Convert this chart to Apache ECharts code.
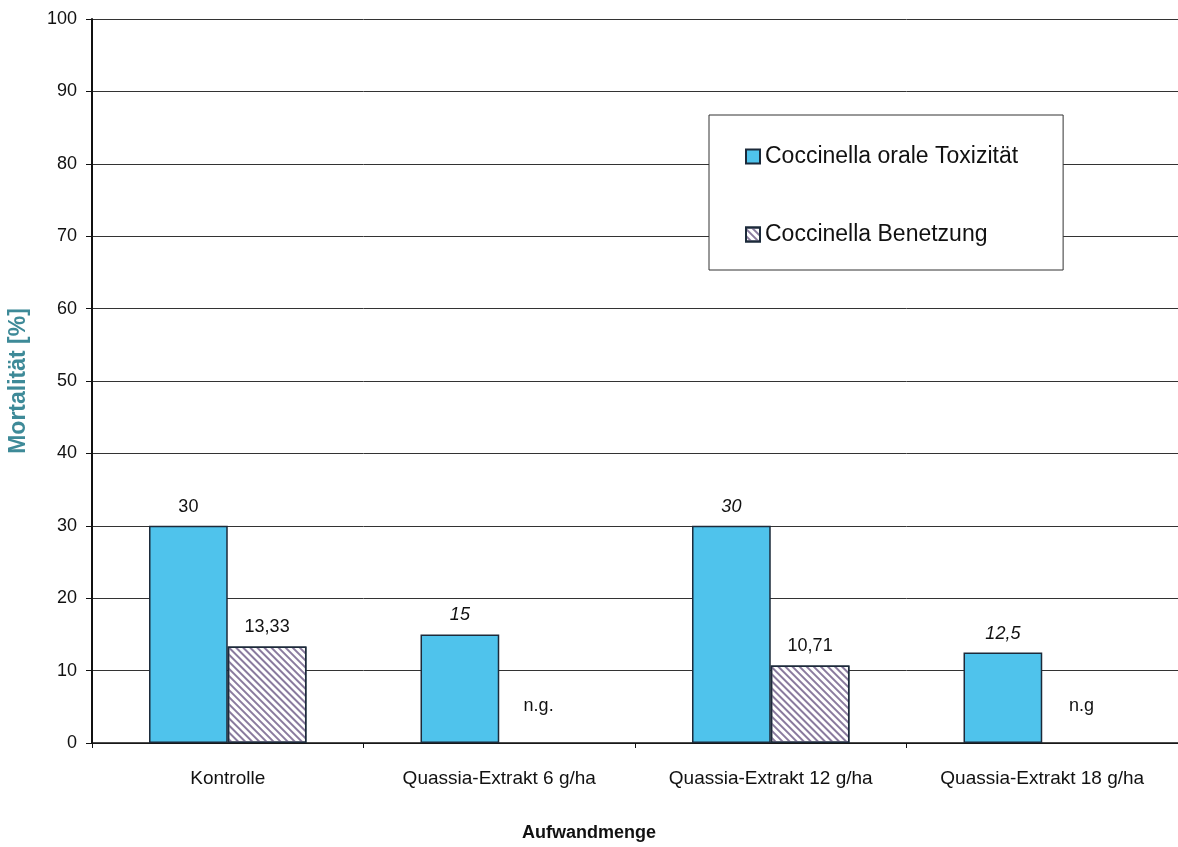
<!DOCTYPE html>
<html><head><meta charset="utf-8">
<script src="https://cdn.jsdelivr.net/npm/echarts@6/dist/echarts.min.js"></script>
<style>html,body{margin:0;padding:0;background:#fff}#c{width:1178px;height:847px}</style>
</head><body><div id="c"></div>
<script>
const categories = ['Kontrolle', 'Quassia-Extrakt 6 g/ha', 'Quassia-Extrakt 12 g/ha', 'Quassia-Extrakt 18 g/ha'];
const seriesNames = ['Coccinella orale Toxizität', 'Coccinella Benetzung'];
const oralValues = [30, 15, 30, 12.5];
const oralItalic = [false, true, true, true];
const benetzungValues = [13.33, null, 10.71, null];
const missingLabels = ['', 'n.g.', '', 'n.g'];
const yTicks = [0, 10, 20, 30, 40, 50, 60, 70, 80, 90, 100];

const fmt = v => String(v).replace('.', ',');
const chart = echarts.init(document.getElementById('c'));
const font = 'Liberation Sans, Arial, sans-serif';

chart.setOption({
  animation: false,
  textStyle: { fontFamily: font },
  grid: { left: 92, right: 0, top: 19, bottom: 104, containLabel: false, outerBoundsMode: 'none' },
  legend: {
    orient: 'vertical', left: 709, top: 115,
    padding: [30, 45, 24, 36], itemGap: 55,
    itemWidth: 14, itemHeight: 14, icon: 'rect',
    backgroundColor: '#fff', borderColor: '#333', borderWidth: 1,
    textStyle: { fontSize: 23, color: '#111', fontFamily: font },
    data: seriesNames
  },
  xAxis: {
    type: 'category', data: categories,
    name: 'Aufwandmenge', nameLocation: 'middle', nameGap: 81,
    nameTextStyle: { fontSize: 18, fontWeight: 'bold', color: '#111', padding: [0, 92, 0, 0] },
    axisLine: { lineStyle: { color: '#111', width: 1.5 } },
    axisTick: { show: true, length: 5, lineStyle: { color: '#111' } },
    axisLabel: { fontSize: 19, color: '#111', margin: 26 }
  },
  yAxis: {
    type: 'value', min: 0, max: 100, interval: 10,
    name: 'Mortalität [%]', nameLocation: 'middle', nameGap: 62,
    nameTextStyle: { fontSize: 23, fontWeight: 'bold', color: '#3e8a98' },
    axisLine: { show: true, lineStyle: { color: '#111', width: 2 } },
    axisTick: { show: true, length: 6, lineStyle: { color: '#111' } },
    axisLabel: { fontSize: 18, color: '#111', margin: 15,
      formatter: v => yTicks.includes(v) ? String(v) : '' },
    splitLine: { lineStyle: { color: '#333', width: 1 } }
  },
  series: [
    {
      name: seriesNames[0], type: 'bar', barGap: '0%', barCategoryGap: '42%',
      itemStyle: { color: '#4fc3ec', borderColor: '#1c2a3a', borderWidth: 1.5 },
      data: oralValues.map((v, i) => ({
        value: v,
        label: { fontStyle: oralItalic[i] ? 'italic' : 'normal' }
      })),
      label: { show: true, position: 'top', distance: 10, fontSize: 18, color: '#111',
        formatter: p => fmt(p.value) }
    },
    {
      name: seriesNames[1], type: 'bar',
      itemStyle: {
        color: '#ffffff', borderColor: '#1c2a3a', borderWidth: 1.5,
        decal: { symbol: 'rect', color: '#8a7b9e', dashArrayX: [1, 0], dashArrayY: [1.6, 3], rotation: Math.PI / 4 }
      },
      data: benetzungValues.map((v, i) => v === null
        ? { value: 0, itemStyle: { borderWidth: 0 }, label: { formatter: missingLabels[i], distance: 28 } }
        : { value: v }),
      label: { show: true, position: 'top', distance: 10, fontSize: 18, color: '#111',
        formatter: p => fmt(p.value) }
    }
  ]
});
</script></body></html>
